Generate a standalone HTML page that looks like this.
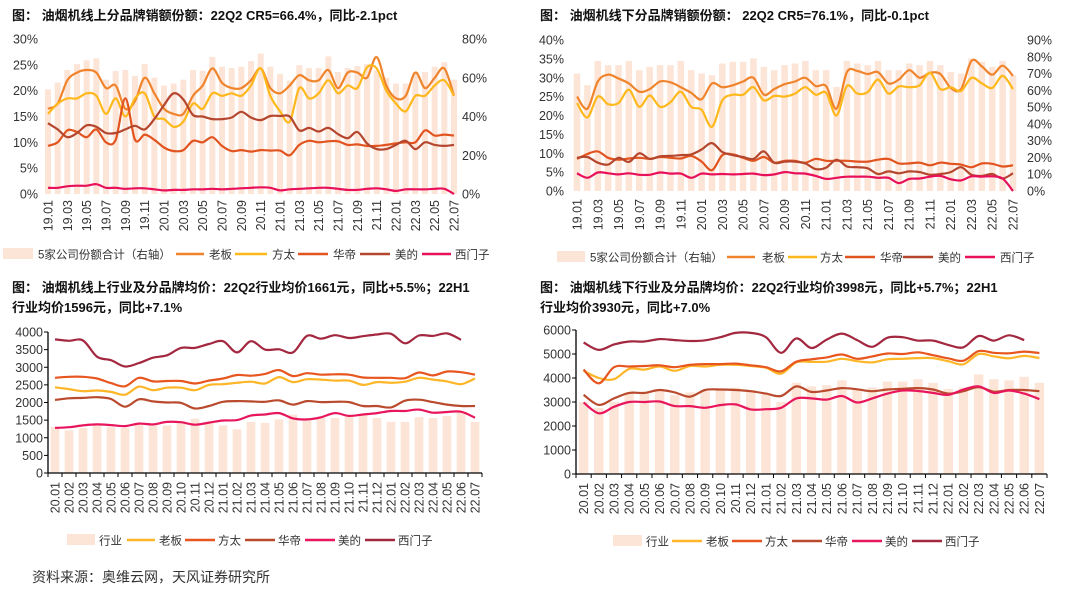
<!DOCTYPE html>
<html><head><meta charset="utf-8">
<style>
body{margin:0;background:#fff;width:1080px;height:591px;overflow:hidden;font-family:"Liberation Sans","Noto Sans CJK SC",sans-serif;}
svg{display:block}
.t{font-family:"Liberation Sans","Noto Sans CJK SC",sans-serif;font-weight:bold;font-size:13px;fill:#111}
.tk{font-family:"Liberation Sans","Noto Sans CJK SC",sans-serif;font-size:12.5px;fill:#333}
.lg{font-family:"Liberation Sans","Noto Sans CJK SC",sans-serif;font-size:11.5px;fill:#333}
</style></head><body>
<svg id="s" width="1080" height="591" xmlns="http://www.w3.org/2000/svg">
<text class="t" x="12" y="20">图：  油烟机线上分品牌销额份额：22Q2 CR5=66.4%，同比-2.1pct</text>
<text class="t" x="540" y="20">图：  油烟机线下分品牌销额份额：  22Q2 CR5=76.1%，同比-0.1pct</text>
<text class="t" x="12" y="292">图：  油烟机线上行业及分品牌均价：22Q2行业均价1661元，同比+5.5%；22H1</text>
<text class="t" x="12" y="312">行业均价1596元，同比+7.1%</text>
<text class="t" x="540" y="292">图：  油烟机线下行业及分品牌均价：22Q2行业均价3998元，同比+5.7%；22H1</text>
<text class="t" x="540" y="312">行业均价3930元，同比+7.0%</text>
<text class="lg" x="32" y="582" style="font-size:14px">资料来源：奥维云网，天风证券研究所</text>
</svg>
<script>
// ---- Chart 1 data (online share) ----
const c1Bars=[54,57.5,64,67,69,70,59,63.5,64,61,67,60,56,57,59,64,63.6,70.7,65.7,65,65.7,68.6,72.5,65.7,62,58.5,66.5,65,65,71,63,65,66,67,64,60,57,57,63,63,65.7,68,59];
const c1Laoban=[16.5,17.5,22,23.5,24,23.5,20.5,21,16.5,18,22.5,19.5,16.5,15.5,15.5,19,21,24.3,21.5,20.5,20.5,22,24.3,20.5,19.5,21,23,22,22,24,20.5,23.5,23.5,22.5,26.5,21,18.5,19,23.5,20.5,22.5,24.3,19];
const c1Fangtai=[15.5,17.5,18.5,18.5,19.5,19,15.5,18.5,15,18.5,19.5,15,14.5,13,14,17.5,16.5,19.5,19,19.5,19,21,24.3,19,16,14,20.5,18.5,19.5,22,19.5,21,20.5,24.5,24.3,20,17.5,16,19,19,21,22,19];
const c1Huadi=[9.3,10,12.3,12,11,12.5,10,10.5,18.5,10.5,11.5,10.5,9,8.3,8.5,10.3,10,11,9.3,8.3,8.5,8.2,8.5,8.4,8.4,7.5,9.5,10.3,10,10.2,10.2,9.5,9.6,9.3,9.3,9.5,9.8,10,10,12.3,11.3,11.5,11.3];
const c1Midea=[13.7,12.5,11,11.8,13.3,13,11.8,11.8,12.5,13.2,12.5,14.5,17.2,19.5,18.3,15.3,15,14.5,14.5,14.8,15.9,14.8,14.3,15.1,15.1,15,12.3,12.8,12.1,12.8,11.6,10.8,12,9.8,8.7,8.7,9.5,10.3,8.7,10,9.5,9.3,9.5];
const c1Siemens=[1.2,1.2,1.5,1.6,1.6,1.9,1.2,1.2,1.0,1.1,1.1,0.9,0.7,0.8,0.8,0.9,0.9,1.0,0.9,1.0,1.1,1.2,1.3,1.2,0.7,0.9,1.0,1.1,1.2,1.2,1.0,0.8,0.8,1.0,1.1,0.9,0.6,0.9,0.9,0.9,1.0,1.0,0];
// ---- Chart 2 data (offline share) ----
const c2Bars=[70,63,77.5,75,75,77.5,72,74,75,75,77.5,72,70,69,76,77,77,79,74,72,75,76,77.5,72,72,62,77.5,76,75,77.5,72,72,76,75,77.5,75,71,70,79,77,74,77.5,69];
const c2Laoban=[25,21.8,29,30.8,29.8,28.5,26.3,27,29,28.8,27.5,26,24.3,28.5,27.5,28,29,30,25.5,27,28.3,29,30,27.8,27.8,21.8,31.5,31.8,31,31.5,28.5,29.5,32,30,31.3,31,27.3,27,34.5,33,30.8,33.2,30.5];
const c2Fangtai=[23.3,19.5,25,23,23.3,26.8,22.3,25.3,22.3,23.5,26.3,22.3,21.5,17,24,25.5,25.5,27.5,24,25.2,25,25.8,27.5,25.5,26,20,27.8,25.8,26.2,29.5,25.8,27.7,27.5,28,31.3,27,27.5,26.5,30,28.5,27.3,30.5,27];
const c2Huadi=[8.5,9.8,10.5,8.8,8.3,8.6,8.8,8.5,9,8.8,8.6,9.3,7.8,5.5,9.5,9.7,8.8,8,9,7.5,8,8,7.5,8.5,8,8,8,7.8,7.8,8.3,8.5,7.3,7.3,7.5,6.8,7.5,7.2,7.0,6.3,7.3,7.2,6.5,6.8];
const c2Midea=[8.8,9,7.5,7,8.8,7.7,10,8.5,9.2,9.3,9.5,9.7,11,12.7,10.3,9.5,9,8.5,10.5,7.5,7.8,7.8,7.3,5.8,6.2,8.3,6.5,6.3,6,4.5,5.2,4.7,5.2,5,4.3,4.5,5,6.3,4.3,4,4.5,3.3,4.7];
const c2Siemens=[4.7,3.5,4.9,4.7,4.4,4.7,4.3,4.3,4.9,4.6,4.6,3.5,4.6,4.4,4.5,4.4,4.5,4.6,4.2,4.4,5,4.7,4.6,4,3.2,3.5,3.8,3.8,3.8,3.5,3.5,2.1,3.2,3.3,3.8,4,3.1,2.8,3.9,3.8,3.9,3.3,0];
// ---- Chart 3 data (online price) ----
const c3Bars=[1305,1210,1275,1350,1300,1280,1380,1350,1350,1450,1540,1450,1350,1240,1450,1420,1520,1655,1520,1560,1560,1640,1640,1560,1450,1450,1590,1560,1620,1730,1450];
const c3Laoban=[2430,2380,2320,2340,2300,2220,2450,2350,2420,2420,2350,2500,2520,2560,2590,2540,2720,2580,2660,2650,2620,2620,2500,2580,2560,2590,2700,2650,2600,2520,2680];
const c3Fangtai=[2700,2730,2730,2680,2550,2460,2700,2600,2610,2610,2540,2620,2680,2780,2760,2810,2920,2750,2830,2790,2800,2790,2710,2700,2700,2690,2850,2770,2880,2860,2790];
const c3Huadi=[2070,2120,2130,2150,2100,1880,2090,2030,2000,1990,1830,1900,2020,2040,2030,2020,2060,1940,2040,2010,2020,2010,1900,1900,1860,2050,2080,2010,1940,1900,1900];
const c3Midea=[1280,1300,1350,1380,1360,1330,1400,1380,1450,1440,1370,1430,1490,1500,1630,1660,1700,1550,1520,1580,1700,1620,1660,1700,1760,1760,1800,1710,1730,1740,1570];
const c3Siemens=[3790,3750,3760,3300,3200,3020,3120,3270,3340,3550,3550,3660,3740,3420,3740,3500,3510,3420,3890,3810,3910,3830,3880,3930,3950,3680,3900,3890,3960,3780,null];
// ---- Chart 4 data (offline price) ----
const c4Bars=[3000,2750,3000,3400,3350,3500,3300,3400,3450,3500,3600,3500,3300,3000,3800,3650,3700,3900,3550,3600,3850,3850,3950,3800,3550,3600,4150,3950,3900,4050,3800];
const c4Laoban=[4300,4000,3950,4380,4350,4480,4300,4500,4480,4550,4550,4500,4430,4180,4650,4670,4680,4800,4700,4650,4780,4800,4830,4830,4700,4570,5000,4900,4820,4920,4830];
const c4Fangtai=[4350,3780,4450,4480,4500,4530,4450,4550,4580,4580,4600,4530,4450,4280,4680,4780,4860,4980,4800,4900,5020,5000,5070,4950,4820,4720,5120,5050,5030,5100,5040];
const c4Huadi=[3300,2880,3150,3380,3380,3500,3400,3220,3500,3520,3500,3450,3350,3250,3650,3420,3480,3580,3530,3450,3520,3550,3580,3520,3350,3450,3620,3430,3500,3500,3450];
const c4Midea=[2980,2530,2800,3000,3000,3020,2830,2830,2760,2870,2900,2690,2700,2760,3150,3150,3100,3250,2980,3150,3350,3480,3460,3380,3300,3520,3650,3380,3480,3350,3120];
const c4Siemens=[5480,5170,5400,5520,5520,5620,5580,5540,5570,5700,5880,5880,5700,5050,5650,5250,5600,5850,5580,5300,5680,5700,5560,5560,5380,5280,5750,5560,5780,5580,null];

const NS='http://www.w3.org/2000/svg';
const S=document.getElementById('s');
function mk(tag,attrs,parent){const e=document.createElementNS(NS,tag);for(const k in attrs)e.setAttribute(k,attrs[k]);(parent||S).appendChild(e);return e;}
function monthCats(y0,m0,n){const a=[];let y=y0,m=m0;for(let i=0;i<n;i++){a.push(String(y).padStart(2,'0')+'.'+String(m).padStart(2,'0'));m++;if(m>12){m=1;y++;}}return a;}
function smooth(pts){
  let d='';
  for(let i=0;i<pts.length;i++){
    const p=pts[i];
    if(i===0){d+='M'+p[0].toFixed(1)+' '+p[1].toFixed(1);continue;}
    const p0=pts[i-2]||pts[i-1],p1=pts[i-1],p3=pts[i+1]||p;
    const c1=[p1[0]+(p[0]-p0[0])/6,p1[1]+(p[1]-p0[1])/6];
    const c2=[p[0]-(p3[0]-p1[0])/6,p[1]-(p3[1]-p1[1])/6];
    d+='C'+c1[0].toFixed(1)+' '+c1[1].toFixed(1)+' '+c2[0].toFixed(1)+' '+c2[1].toFixed(1)+' '+p[0].toFixed(1)+' '+p[1].toFixed(1);
  }
  return d;
}
function drawLine(g,vals,xf,yf,color,name){
  const pts=[];vals.forEach((v,i)=>{if(v!==null)pts.push([xf(i),yf(v)]);});
  const p=mk('path',{d:smooth(pts),fill:'none',stroke:color,'stroke-width':2.2,'stroke-linejoin':'round'},g);
  
  
}
function drawBars(g,vals,xf,yf,y0,w,name){
  vals.forEach((v,i)=>{
    const y=yf(v);
    const r=mk('rect',{x:xf(i)-w/2,y:y,width:w,height:y0-y,fill:'#FCE4D6'},g);
    
    
  });
}
function legend(g,y,items){
  items.forEach(it=>{
    if(it.bar){const r=mk('rect',{x:it.x1,y:y-6,width:it.x2-it.x1,height:11,fill:'#FCE4D6'},g);
      }
    else{const l=mk('line',{x1:it.x1,x2:it.x2,y1:y,y2:y,stroke:it.c,'stroke-width':2.4},g);
      }
    const t=mk('text',{x:it.tx,y:y+4.5,class:'lg'},g);t.textContent=it.label;
    
    
  });
}
function xLabels(g,cats,xf,yTop,step){
  cats.forEach((c,i)=>{if(i%step)return;
    const x=xf(i)+4.5;
    const t=mk('text',{x:x,y:yTop,class:'tk','text-anchor':'end',transform:'rotate(-90 '+x+' '+yTop+')'},g);
    t.textContent=c;
    
    
  });
}
function yLabels(g,ticks,yf,x,anchor,fmt){
  ticks.forEach(v=>{const t=mk('text',{x:x,y:yf(v)+4.5,class:'tk','text-anchor':anchor},g);t.textContent=fmt(v);
    });
}

// ===== Chart 1 =====
(function(){
  const g=mk('g',{});
  const cats=monthCats(19,1,c1Bars.length);
  const xf=i=>48+i*(406/(cats.length-1));
  const yL=v=>194-v/30*155, yR=v=>194-v/80*155;
  drawBars(g,c1Bars,xf,yR,194,6,'bar-cr5');
  drawLine(g,c1Laoban,xf,yL,'#F0842C','line-laoban');
  drawLine(g,c1Fangtai,xf,yL,'#FFB81C','line-fangtai');
  drawLine(g,c1Huadi,xf,yL,'#E2541F','line-huadi');
  drawLine(g,c1Midea,xf,yL,'#B5462E','line-midea');
  drawLine(g,c1Siemens,xf,yL,'#E8105A','line-siemens');
  yLabels(g,[0,5,10,15,20,25,30],yL,38,'end',v=>v+'%');
  yLabels(g,[0,20,40,60,80],yR,462,'start',v=>v+'%');
  xLabels(g,cats,xf,200,2);
  legend(g,254,[{bar:1,x1:3,x2:33,tx:38,label:'5家公司份额合计（右轴）',key:'cr5'},
    {x1:176,x2:204,tx:209,c:'#F0842C',label:'老板',key:'laoban'},
    {x1:235,x2:267,tx:272,c:'#FFB81C',label:'方太',key:'fangtai'},
    {x1:298,x2:328,tx:333,c:'#E2541F',label:'华帝',key:'huadi'},
    {x1:360,x2:390,tx:395,c:'#B5462E',label:'美的',key:'midea'},
    {x1:422,x2:451,tx:455,c:'#E8105A',label:'西门子',key:'siemens'}]);
})();
// ===== Chart 2 =====
(function(){
  const g=mk('g',{});
  const cats=monthCats(19,1,c2Bars.length);
  const xf=i=>577+i*(436/(cats.length-1));
  const yL=v=>191-v/40*151, yR=v=>191-v/90*151;
  drawBars(g,c2Bars,xf,yR,191,6.5,'bar-cr5');
  drawLine(g,c2Laoban,xf,yL,'#F0842C','line-laoban');
  drawLine(g,c2Fangtai,xf,yL,'#FFB81C','line-fangtai');
  drawLine(g,c2Huadi,xf,yL,'#E2541F','line-huadi');
  drawLine(g,c2Midea,xf,yL,'#B5462E','line-midea');
  drawLine(g,c2Siemens,xf,yL,'#E8105A','line-siemens');
  yLabels(g,[0,5,10,15,20,25,30,35,40],yL,564,'end',v=>v+'%');
  yLabels(g,[0,10,20,30,40,50,60,70,80,90],yR,1027,'start',v=>v+'%');
  xLabels(g,cats,xf,199,2);
  legend(g,257,[{bar:1,x1:557,x2:585,tx:590,label:'5家公司份额合计（右轴）',key:'cr5'},
    {x1:727,x2:755,tx:762,c:'#F0842C',label:'老板',key:'laoban'},
    {x1:788,x2:817,tx:820,c:'#FFB81C',label:'方太',key:'fangtai'},
    {x1:845,x2:875,tx:880,c:'#E2541F',label:'华帝',key:'huadi'},
    {x1:903,x2:933,tx:938,c:'#B5462E',label:'美的',key:'midea'},
    {x1:965,x2:995,tx:1000,c:'#E8105A',label:'西门子',key:'siemens'}]);
})();
// ===== Chart 3 & 4 =====
function priceChart(o){
  const g=mk('g',{});
  const n=o.bars.length, step=(o.ax2-o.ax1)/n;
  const xf=i=>o.ax1+step*(i+0.5);
  const yf=v=>o.y0-v/o.max*(o.y0-o.yTop);
  drawBars(g,o.bars,xf,yf,o.y0,step*0.62,'bar-industry');
  drawLine(g,o.laoban,xf,yf,'#FDB627','line-laoban');
  drawLine(g,o.fangtai,xf,yf,'#E8561F','line-fangtai');
  drawLine(g,o.huadi,xf,yf,'#BA4A2D','line-huadi');
  drawLine(g,o.midea,xf,yf,'#E8175D','line-midea');
  drawLine(g,o.siemens,xf,yf,'#A3283F','line-siemens');
  const ax=mk('path',{d:'M'+o.ax1+' '+o.yTop+'V'+o.y0+'H'+o.ax2,stroke:'#000','stroke-width':1.3,fill:'none'},g);
  
  o.ticks.forEach(v=>{mk('line',{x1:o.ax1-4,x2:o.ax1,y1:yf(v),y2:yf(v),stroke:'#000'},g);});
  for(let i=0;i<=n;i++){mk('line',{x1:o.ax1+step*i,x2:o.ax1+step*i,y1:o.y0,y2:o.y0+4,stroke:'#000'},g);}
  yLabels(g,o.ticks,yf,o.ax1-5,'end',v=>String(v));
  xLabels(g,monthCats(20,1,n),xf,o.y0+9,1);
  legend(g,o.ly,o.leg);
}
priceChart({name:'chart3-online-price',bars:c3Bars,laoban:c3Laoban,fangtai:c3Fangtai,huadi:c3Huadi,midea:c3Midea,siemens:c3Siemens,
  ax1:48,ax2:482,y0:473,yTop:332,max:4000,ticks:[0,500,1000,1500,2000,2500,3000,3500,4000],ly:540,
  leg:[{bar:1,x1:67,x2:95,tx:99,label:'行业',key:'industry'},
    {x1:127,x2:155,tx:159,c:'#FDB627',label:'老板',key:'laoban'},
    {x1:185,x2:215,tx:218,c:'#E8561F',label:'方太',key:'fangtai'},
    {x1:245,x2:275,tx:278,c:'#BA4A2D',label:'华帝',key:'huadi'},
    {x1:305,x2:335,tx:338,c:'#E8175D',label:'美的',key:'midea'},
    {x1:365,x2:395,tx:398,c:'#A3283F',label:'西门子',key:'siemens'}]});
priceChart({name:'chart4-offline-price',bars:c4Bars,laoban:c4Laoban,fangtai:c4Fangtai,huadi:c4Huadi,midea:c4Midea,siemens:c4Siemens,
  ax1:576,ax2:1047,y0:474,yTop:330,max:6000,ticks:[0,1000,2000,3000,4000,5000,6000],ly:541,
  leg:[{bar:1,x1:613,x2:642,tx:646,label:'行业',key:'industry'},
    {x1:672,x2:702,tx:706,c:'#FDB627',label:'老板',key:'laoban'},
    {x1:732,x2:762,tx:765,c:'#E8561F',label:'方太',key:'fangtai'},
    {x1:792,x2:822,tx:825,c:'#BA4A2D',label:'华帝',key:'huadi'},
    {x1:852,x2:882,tx:885,c:'#E8175D',label:'美的',key:'midea'},
    {x1:912,x2:942,tx:945,c:'#A3283F',label:'西门子',key:'siemens'}]});
</script>
</body></html>
